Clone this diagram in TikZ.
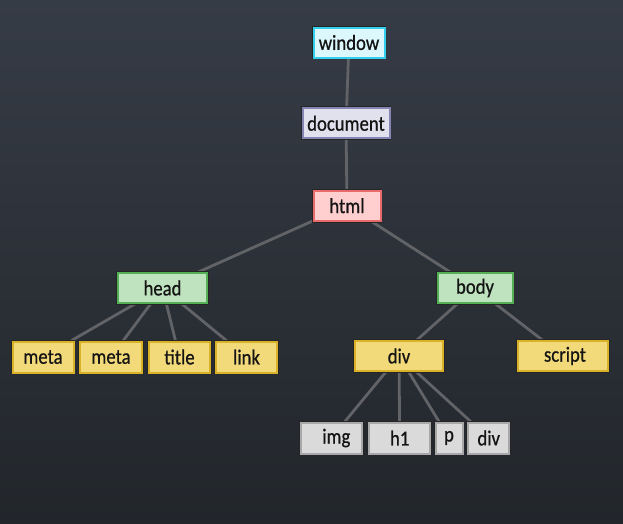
\documentclass[tikz,border=0pt]{standalone}
\usepackage{fontspec}
\setmainfont{Carlito}
\newfontfamily\boxfont{Carlito}[BoldFont=Carlito, BoldFeatures={FakeBold=0.7}]
\newcommand{\bx}[1]{\scalebox{1}[1.15]{\boxfont\bfseries #1}}
\pgfdeclarelayer{bg}
\pgfdeclarelayer{edges}
\pgfsetlayers{bg,edges,main}
\definecolor{bgtop}{HTML}{363C46}
\definecolor{bgbot}{HTML}{22262B}
\definecolor{linegray}{HTML}{626366}
\definecolor{winfill}{HTML}{DCF8FD}
\definecolor{winborder}{HTML}{33D0EE}
\definecolor{docfill}{HTML}{E1E1EE}
\definecolor{docborder}{HTML}{8585B5}
\definecolor{htmlfill}{HTML}{FFCFCF}
\definecolor{htmlborder}{HTML}{E86A6A}
\definecolor{greenfill}{HTML}{BFE3BF}
\definecolor{greenborder}{HTML}{55B055}
\definecolor{yelfill}{HTML}{F2D97A}
\definecolor{yelborder}{HTML}{D9B22A}
\definecolor{grayfill}{HTML}{DADADA}
\definecolor{grayborder}{HTML}{A8A8A8}
\begin{document}
\begin{tikzpicture}[x=1pt,y=-1pt,
  box/.style={draw, line width=2pt, inner sep=0pt, minimum height=30pt,
    font=\fontsize{18.7}{20}\selectfont, text=black!92,
    preaction={draw=black!85, line width=3.8pt}},
  winbox/.style={box, fill=winfill, draw=winborder},
  docbox/.style={box, fill=docfill, draw=docborder},
  htmlbox/.style={box, fill=htmlfill, draw=htmlborder},
  greenbox/.style={box, fill=greenfill, draw=greenborder},
  yelbox/.style={box, fill=yelfill, draw=yelborder, minimum height=31pt},
  graybox/.style={box, fill=grayfill, draw=grayborder, minimum height=31pt},
  edge/.style={draw=linegray, line width=2.8pt}]
\begin{pgfonlayer}{bg}
  \shade[top color=bgtop, bottom color=bgbot] (0,0) rectangle (623,523);
\end{pgfonlayer}
\useasboundingbox (0,0) rectangle (623,523);

\node[winbox, minimum width=71pt] (window) at (349,42.5) {\bx{window}};
\node[docbox, minimum width=87pt] (document) at (346,123.3) {\bx{document}};
\node[htmlbox, minimum width=67pt] (html) at (347,205.7) {\bx{html}};
\node[greenbox, minimum width=89pt] (head) at (162.5,288) {\bx{head}};
\node[greenbox, minimum width=75pt] (body) at (475,288) {\bx{body}};
\node[yelbox, minimum width=61pt] (meta1) at (43,357) {\bx{meta}};
\node[yelbox, minimum width=62pt] (meta2) at (111,357) {\bx{meta}};
\node[yelbox, minimum width=61pt] (title) at (179.5,357) {\bx{title}};
\node[yelbox, minimum width=61pt] (link) at (246.5,357) {\bx{link}};
\node[yelbox, minimum width=88pt, minimum height=30pt] (div) at (399,356) {\bx{div}};
\node[yelbox, minimum width=90pt, minimum height=30pt] (script) at (563,356) {\hspace{4pt}\bx{script}};
\node[graybox, minimum width=61pt] (img) at (331.3,438) {\hspace{10pt}\bx{img}};
\node[graybox, minimum width=61pt] (h1) at (399.7,438) {\bx{h1}};
\node[graybox, minimum width=27pt] (p) at (449,438) {\bx{p}};
\node[graybox, minimum width=41pt] (div2) at (488.7,438) {\bx{div}};

\begin{pgfonlayer}{edges}
  \draw[edge] (window) -- (document);
  \draw[edge] (document) -- (html);
  \draw[edge] (html) -- (head);
  \draw[edge] (html) -- (body);
  \draw[edge] (head) -- (meta1);
  \draw[edge] (head) -- (meta2);
  \draw[edge] (head) -- (title);
  \draw[edge] (head) -- (link);
  \draw[edge] (body) -- (div);
  \draw[edge] (body) -- (script);
  \draw[edge] (div) -- (img);
  \draw[edge] (div) -- (h1);
  \draw[edge] (div) -- (p);
  \draw[edge] (div) -- (div2);
\end{pgfonlayer}
\end{tikzpicture}
\end{document}
